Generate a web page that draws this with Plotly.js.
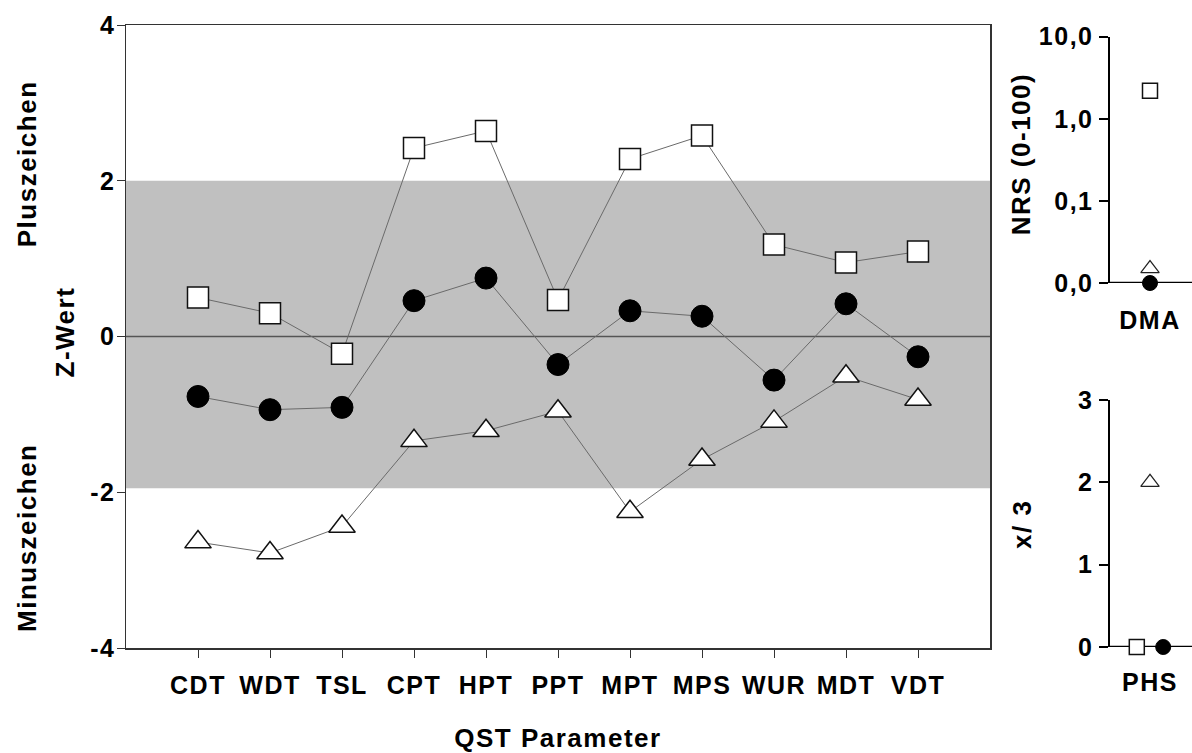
<!DOCTYPE html>
<html>
<head>
<meta charset="utf-8">
<script src="https://cdn.plot.ly/plotly-3.0.1.min.js"></script>
<style>
html,body{margin:0;padding:0;background:#fff;}
#chart{width:1192px;height:753px;}
#chart text{letter-spacing:1.5px;}
</style>
</head>
<body>
<div id="chart"></div>
<script>
// ---- data ----
const categories = ['CDT','WDT','TSL','CPT','HPT','PPT','MPT','MPS','WUR','MDT','VDT'];
const squareValues   = [0.50, 0.30, -0.22, 2.42, 2.64, 0.47, 2.28, 2.58, 1.18, 0.95, 1.09];
const circleValues   = [-0.77, -0.94, -0.91, 0.46, 0.75, -0.36, 0.33, 0.26, -0.56, 0.42, -0.26];
const triangleValues = [-2.64, -2.78, -2.44, -1.34, -1.21, -0.96, -2.25, -1.58, -1.09, -0.51, -0.81];
const bandLow = -1.95, bandHigh = 2;
const zTickVals = [-4, -2, 0, 2, 4];
const zTickText = ['-4', '-2', '0', '2', '4'];

const dmaLabel = 'DMA';
const dmaSquare = 2.2, dmaTriangle = 0.015, dmaCircle = 0.01; // 0,0 shown at axis floor
const nrsTickVals = [0.01, 0.1, 1, 10];
const nrsTickText = ['0,0', '0,1', '1,0', '10,0'];

const phsLabel = 'PHS';
const phsSquare = 0, phsTriangle = 2, phsCircle = 0;
const phsTickVals = [0, 1, 2, 3];

// ---- styles ----
const FONT = 'Liberation Sans, Arial, sans-serif';
const lineCol = '#6a6a6a';
const sq = {symbol: 'square', size: 21, color: '#ffffff', line: {color: '#111', width: 1.5}};
const ci = {symbol: 'circle', size: 22, color: '#000000', line: {color: '#000', width: 1}};
const tr = {symbol: 'triangle-up', size: 23, color: '#ffffff', line: {color: '#111', width: 1.5}};
const sqS = Object.assign({}, sq, {size: 15});
const ciS = Object.assign({}, ci, {size: 15});
const trS = Object.assign({}, tr, {size: 16, line: {color: '#222', width: 1.2}});

const traces = [
  {x: categories, y: squareValues, type: 'scatter', mode: 'lines+markers', marker: sq, line: {color: lineCol, width: 1}, xaxis: 'x', yaxis: 'y', cliponaxis: false},
  {x: categories, y: circleValues, type: 'scatter', mode: 'lines+markers', marker: ci, line: {color: lineCol, width: 1}, xaxis: 'x', yaxis: 'y', cliponaxis: false},
  {x: categories, y: triangleValues, type: 'scatter', mode: 'lines+markers', marker: tr, line: {color: lineCol, width: 1}, xaxis: 'x', yaxis: 'y', cliponaxis: false},
  // DMA panel
  {x: [0], y: [dmaSquare], type: 'scatter', mode: 'markers', marker: sqS, xaxis: 'x2', yaxis: 'y2', cliponaxis: false},
  {x: [0], y: [dmaTriangle], type: 'scatter', mode: 'markers', marker: trS, xaxis: 'x2', yaxis: 'y2', cliponaxis: false},
  {x: [0], y: [dmaCircle], type: 'scatter', mode: 'markers', marker: ciS, xaxis: 'x2', yaxis: 'y2', cliponaxis: false},
  // PHS panel (square and circle shifted sideways so both stay visible)
  {x: [-0.33], y: [phsSquare], type: 'scatter', mode: 'markers', marker: sqS, xaxis: 'x3', yaxis: 'y3', cliponaxis: false},
  {x: [0], y: [phsTriangle], type: 'scatter', mode: 'markers', marker: trS, xaxis: 'x3', yaxis: 'y3', cliponaxis: false},
  {x: [0.33], y: [phsCircle], type: 'scatter', mode: 'markers', marker: ciS, xaxis: 'x3', yaxis: 'y3', cliponaxis: false}
];

const W = 1192, H = 753;
const fx = px => px / W;
const fy = py => 1 - py / H;

const tickFont = {family: FONT, size: 25, color: '#000', weight: 'bold'};
const titleFont = {family: FONT, size: 26, color: '#000', weight: 'bold'};

const layout = {
  width: W, height: H,
  margin: {l: 0, r: 0, t: 0, b: 0},
  paper_bgcolor: '#fff', plot_bgcolor: 'rgba(0,0,0,0)',
  showlegend: false,
  xaxis: {
    domain: [fx(126), fx(990)], type: 'category', range: [-1, 11],
    showline: true, linecolor: '#333', linewidth: 1.5, mirror: true,
    ticks: 'outside', ticklen: 8, tickcolor: '#333', tickwidth: 1, ticklabelstandoff: 6,
    showgrid: false, zeroline: false, tickfont: tickFont, fixedrange: true
  },
  yaxis: {
    domain: [fy(648), fy(25)], range: [-4, 4],
    tickvals: zTickVals, ticktext: zTickText,
    showline: true, linecolor: '#333', linewidth: 1.5, mirror: true,
    ticks: 'outside', ticklen: 8, tickcolor: '#333', tickwidth: 1, ticklabelstandoff: -4,
    showgrid: false, zeroline: false, tickfont: tickFont, fixedrange: true
  },
  xaxis2: {
    domain: [fx(1110), 1], range: [-1, 1.05], anchor: 'y2',
    tickvals: [0], ticktext: [dmaLabel], ticks: '', ticklabelstandoff: 20,
    showline: false, showgrid: false, zeroline: false, tickfont: tickFont
  },
  yaxis2: {
    domain: [fy(283), fy(36.7)], type: 'log', range: [-2, 1], anchor: 'x2',
    tickvals: nrsTickVals, ticktext: nrsTickText,
    showline: true, linecolor: '#000', linewidth: 2.5,
    ticks: 'outside', ticklen: 9, tickcolor: '#000', tickwidth: 2,
    showgrid: false, zeroline: false, tickfont: tickFont
  },
  xaxis3: {
    domain: [fx(1110), 1], range: [-1, 1.05], anchor: 'y3',
    tickvals: [0], ticktext: [phsLabel], ticks: '', ticklabelstandoff: 18,
    showline: false, showgrid: false, zeroline: false, tickfont: tickFont
  },
  yaxis3: {
    domain: [fy(647), fy(400)], range: [0, 3], anchor: 'x3',
    tickvals: phsTickVals,
    showline: true, linecolor: '#000', linewidth: 2.5,
    ticks: 'outside', ticklen: 9, tickcolor: '#000', tickwidth: 2,
    showgrid: false, zeroline: false, tickfont: tickFont
  },
  shapes: [
    {type: 'rect', layer: 'below', xref: 'x domain', yref: 'y', x0: 0, x1: 1, y0: bandLow, y1: bandHigh, fillcolor: '#c0c0c0', line: {width: 0}},
    {type: 'line', layer: 'below', xref: 'x domain', yref: 'y', x0: 0, x1: 1, y0: 0, y1: 0, line: {color: '#555', width: 1.5}},
    {type: 'line', layer: 'below', xref: 'x2 domain', yref: 'y2', x0: 0, x1: 1, y0: 0.01, y1: 0.01, line: {color: '#000', width: 2.5}},
    {type: 'line', layer: 'below', xref: 'x3 domain', yref: 'y3', x0: 0, x1: 1, y0: 0, y1: 0, line: {color: '#000', width: 2.5}}
  ],
  annotations: [
    {text: 'QST Parameter', xref: 'paper', yref: 'paper', x: fx(558), y: fy(738), showarrow: false, font: titleFont, xanchor: 'center', yanchor: 'middle'},
    {text: 'Z-Wert', xref: 'paper', yref: 'paper', x: fx(65), y: fy(332), showarrow: false, font: titleFont, textangle: -90, xanchor: 'center', yanchor: 'middle'},
    {text: 'Pluszeichen', xref: 'paper', yref: 'paper', x: fx(27), y: fy(164), showarrow: false, font: titleFont, textangle: -90, xanchor: 'center', yanchor: 'middle'},
    {text: 'Minuszeichen', xref: 'paper', yref: 'paper', x: fx(27), y: fy(538), showarrow: false, font: titleFont, textangle: -90, xanchor: 'center', yanchor: 'middle'},
    {text: 'NRS (0-100)', xref: 'paper', yref: 'paper', x: fx(1021), y: fy(154), showarrow: false, font: titleFont, textangle: -90, xanchor: 'center', yanchor: 'middle'},
    {text: 'x/ 3', xref: 'paper', yref: 'paper', x: fx(1022), y: fy(525), showarrow: false, font: titleFont, textangle: -90, xanchor: 'center', yanchor: 'middle'}
  ]
};

Plotly.newPlot('chart', traces, layout, {displayModeBar: false, staticPlot: true});
</script>
</body>
</html>
